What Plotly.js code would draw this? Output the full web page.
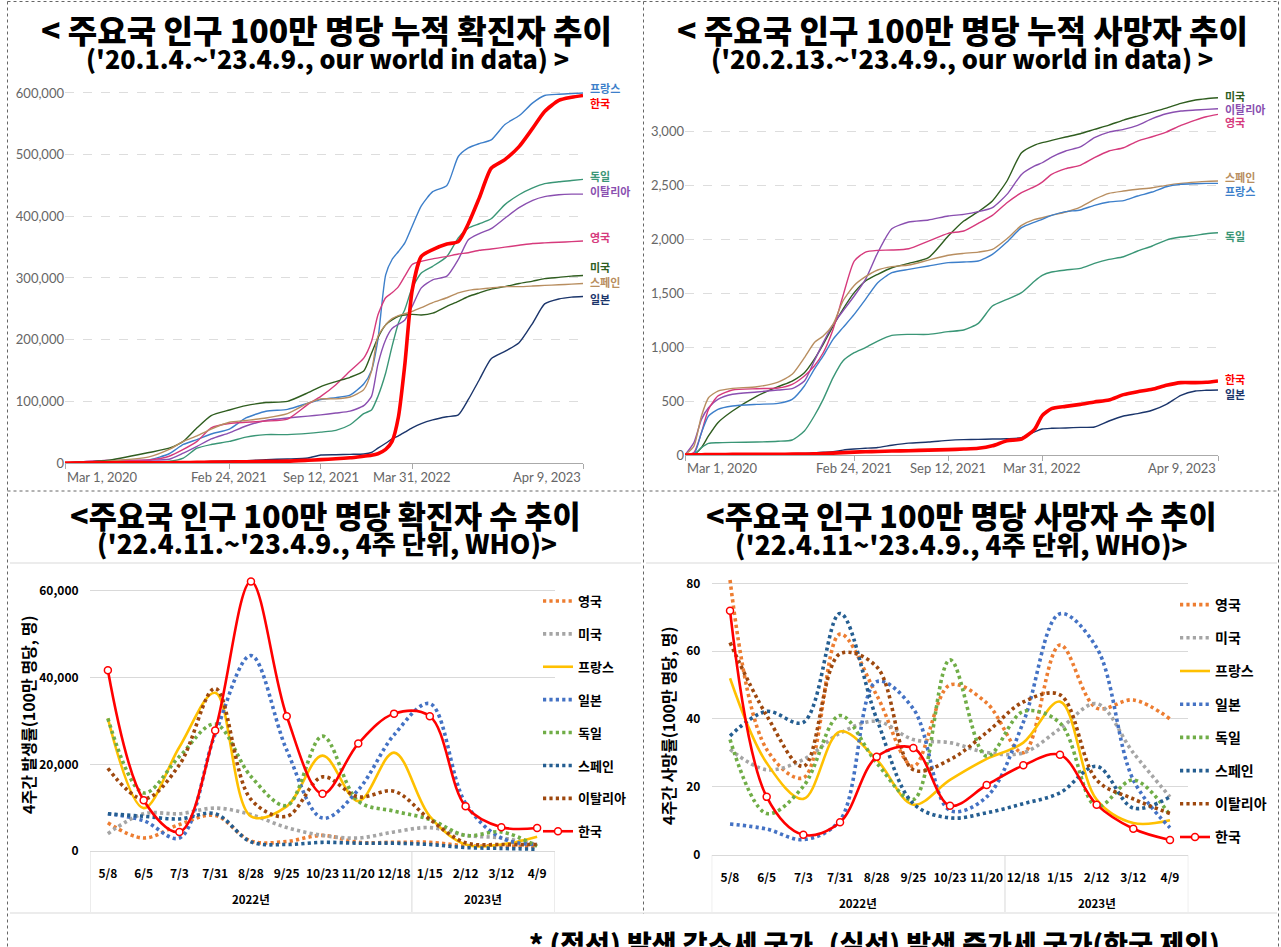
<!DOCTYPE html>
<html><head><meta charset="utf-8">
<script src="https://cdn.plot.ly/plotly-3.0.1.min.js"></script>
<style>html,body{margin:0;padding:0;background:#fff;}#chart{width:1281px;height:947px;}</style>
</head><body><div id="chart"></div>
<script>
const W = 1281, H = 947;
const px = x => x / W, py = y => 1 - y / H;

// ---------- Top-left: cumulative cases per million (thousands) ----------
const casesDates = ["2020-03-01","2020-06-01","2020-09-01","2020-10-15","2020-11-15","2020-12-15","2021-01-15","2021-02-24","2021-04-01","2021-05-15","2021-07-01","2021-08-15","2021-09-12","2021-10-15","2021-11-15","2021-12-15","2022-01-01","2022-01-15","2022-02-01","2022-02-15","2022-03-01","2022-03-15","2022-03-31","2022-04-20","2022-05-15","2022-06-15","2022-07-10","2022-08-01","2022-08-25","2022-09-20","2022-10-20","2022-11-20","2022-12-20","2023-01-15","2023-02-15","2023-03-15","2023-04-09"];
const casesFrance  = [0,2,5,15,30,38,47,55,73,84,87,97,103,106,110,128,150,200,305,330,343,357,384,417,440,450,497,511,518,524,549,563,584,596,598,599,600];
const casesKorea   = [0.1,0.3,0.4,0.5,0.6,1,1.4,1.7,2,2.6,3,4.5,5.5,6.8,8.5,11,12.5,15,22,35,75,160,280,335,346,355,359,388,430,478,492,513,543,570,588,593,596];
const casesGermany = [0,1,2,3,8,24,30,35,42,46,46,48,50,53,62,80,86,108,146,189,227,249,284,308,319,335,365,381,388,396,419,435,446,453,456,458,460];
const casesItaly   = [0,4,4.5,6,16,27,39,49,60,69,73,76,78,81,84,93,108,160,200,218,225,232,254,284,297,303,330,362,372,380,397,414,426,432,435,436,436];
const casesUK      = [0,4,5,11,22,35,57,64,66,68,71,95,108,127,149,170,197,240,268,276,286,303,322,327,331,335,339,341,345,347,350,353,356,357,358,359,360];
const casesUS      = [0,4,17,24,35,57,77,86,93,98,100,114,124,132,139,149,178,203,224,232,238,240,241,240,243,254,262,270,276,282,286,291,295,299,301,303,304];
const casesSpain   = [0,3,10,22,35,44,55,66,69,73,80,97,104,104,107,119,149,205,224,234,239,242,246,252,260,268,276,280,282,284,286,286,287,288,289,290,291];
const casesJapan   = [0,0.1,0.6,0.7,0.9,1.5,2.5,3.4,3.8,5.5,6.5,8,13,13.5,14,14.6,17,24,32,39,44,50,57,64,70,75,78,103,135,169,181,195,227,258,266,269,270];
const casesLabelY  = [608,584,465,441,366,318,293,266]; // label positions (thousands), in order of topNamesCases

// ---------- Top-right: cumulative deaths per million ----------
const deathsDates = ["2020-03-01","2020-03-20","2020-04-05","2020-04-20","2020-05-10","2020-06-10","2020-08-01","2020-09-15","2020-10-15","2020-11-10","2020-12-01","2020-12-20","2021-01-10","2021-01-31","2021-02-24","2021-03-20","2021-04-15","2021-05-15","2021-06-20","2021-08-01","2021-09-12","2021-10-15","2021-11-15","2021-12-15","2022-01-15","2022-02-15","2022-03-15","2022-03-31","2022-04-20","2022-05-20","2022-06-20","2022-07-20","2022-08-20","2022-09-20","2022-10-20","2022-11-20","2022-12-20","2023-01-20","2023-02-20","2023-03-15","2023-04-09"];
const deathsUS      = [0,6,68,176,299,407,546,633,685,762,886,1025,1194,1349,1503,1611,1673,1734,1774,1827,2027,2166,2253,2352,2537,2799,2870,2892,2913,2944,2975,3015,3055,3101,3138,3175,3212,3256,3287,3299,3308];
const deathsItaly   = [0,114,330,438,515,562,583,602,614,685,870,1040,1210,1333,1472,1626,1873,2095,2157,2176,2213,2228,2253,2290,2413,2598,2676,2706,2759,2815,2852,2938,2990,3015,3052,3114,3160,3185,3194,3200,3206];
const deathsUK      = [0,22,207,423,546,602,614,620,654,731,824,947,1163,1472,1796,1879,1895,1898,1910,1981,2052,2074,2145,2219,2336,2429,2484,2527,2598,2651,2682,2753,2815,2845,2907,2947,2990,3052,3101,3132,3154];
const deathsSpain   = [0,83,361,530,592,617,632,675,747,901,1040,1102,1210,1426,1570,1651,1713,1744,1759,1805,1850,1867,1879,1904,2003,2126,2182,2197,2219,2250,2296,2367,2423,2444,2460,2475,2497,2515,2527,2534,2537];
const deathsFrance  = [0,6,207,361,423,454,469,478,515,639,793,917,1071,1179,1302,1441,1595,1688,1719,1750,1781,1787,1796,1858,1972,2105,2157,2182,2219,2253,2269,2312,2343,2355,2398,2435,2484,2506,2512,2515,2515];
const deathsGermany = [0,6,68,108,114,117,120,127,139,222,361,515,716,870,947,994,1055,1108,1117,1117,1142,1157,1219,1379,1441,1503,1611,1663,1694,1713,1728,1774,1811,1836,1889,1935,1990,2018,2034,2049,2058];
const deathsKorea   = [0,2,3,4,5,5.5,6,7,8,9,10,13,17,22,27,30,33,37,40,45,50,55,62,85,132,148,240,365,429,450,469,491,509,559,586,608,645,670,670,673,685];
const deathsJapan   = [0,0.3,1,2,5,7,8,12,13,15,20,25,30,45,55,62,70,90,110,120,135,142,145,148,151,160,215,241,247,250,256,259,315,361,383,414,469,552,593,599,602];
const deathsLabelY  = [3324,3204,3083,2574,2444,2028,704,565];

// ---------- Bottom: 4-week rates (WHO) ----------
const weeks = ["5/8","6/5","7/3","7/31","8/28","9/25","10/23","11/20","12/18","1/15","2/12","3/12","4/9"];
const yearGroupsCases  = ["2022년",9,"2023년",4];
const yearGroupsDeaths = ["2022년",8,"2023년",5];

const wkCasesUK      = [6500,3000,6100,8200,2300,2200,3600,2000,2000,2000,1200,1200,1000];
const wkCasesUS      = [4000,8600,8600,9900,8400,5400,3600,3000,4400,5400,3600,3000,1500];
const wkCasesFrance  = [30600,9900,24000,36500,8000,10300,22000,11500,22700,8000,1500,1500,3300];
const wkCasesJapan   = [8600,7000,3000,27000,45100,23300,7600,14100,26800,34000,11000,3000,1500];
const wkCasesGermany = [30600,13400,21800,29300,17200,10500,26500,11500,9200,7300,3600,4400,1100];
const wkCasesSpain   = [8600,8000,7400,8600,2100,1500,2000,1800,1800,1500,800,600,400];
const wkCasesItaly   = [19100,12000,19900,37500,11900,8000,17100,12500,13800,7300,1900,1500,1500];
const wkCasesKorea   = [41700,11700,4400,27800,62200,31100,13200,24800,31700,31100,10300,5500,5300];

const wkDeathsUK      = [81,31,22.6,65,47,26,50,44.7,30,61.8,43.2,45.6,40];
const wkDeathsUS      = [31,25,28,35.8,39.3,33.9,33,30.1,30,37.1,44.5,30,17];
const wkDeathsFrance  = [52,27,16.4,36.3,28,14.7,22,28.2,33,45.1,16.2,9.3,10.1];
const wkDeathsJapan   = [9,7.5,4.4,10.1,51,43,13,17,39,71,61,22,7.9];
const wkDeathsGermany = [33.9,12.1,20.1,41,27,16.2,57.4,29,42.2,38.8,14.2,22,11.6];
const wkDeathsSpain   = [35,42.2,39,71.1,40,15,10.8,12.3,15,18.2,26,13.7,17];
const wkDeathsItaly   = [62.5,41,26,59.2,55.4,25,28,36,45,47.1,22,16.4,12.1];
const wkDeathsKorea   = [71.9,17,5.8,9.5,28.8,31.4,14.4,20.5,26.3,29.4,14.7,7.6,4.3];

const KR = "Noto Sans CJK KR";
const traces = [];
const annotations = [];
const shapes = [];

// top charts
const topNamesCases = ["프랑스","한국","독일","이탈리아","영국","미국","스페인","일본"];
const topCasesSeries = [casesFrance,casesKorea,casesGermany,casesItaly,casesUK,casesUS,casesSpain,casesJapan];
const topCasesColors = ["#3d7fca","#ff0000","#3a9676","#8a4fb0","#d63a7c","#2f5d1f","#b88e60","#1b356b"];
const topNamesDeaths = ["미국","이탈리아","영국","스페인","프랑스","독일","한국","일본"];
const topDeathsSeries = [deathsUS,deathsItaly,deathsUK,deathsSpain,deathsFrance,deathsGermany,deathsKorea,deathsJapan];
const topDeathsColors = ["#2f5d1f","#8a4fb0","#d63a7c","#b88e60","#3d7fca","#3a9676","#ff0000","#1b356b"];

function addTop(names, series, colors, dates, scale, xa, ya, labelY) {
  const order = names.map((n,i)=>i).sort((a,b)=> (names[a]==="한국") - (names[b]==="한국"));
  order.forEach(i => {
    const isKr = names[i] === "한국";
    traces.push({x: dates, y: series[i].map(v=>v*scale), xaxis: xa, yaxis: ya, mode: "lines",
      line: {color: colors[i], width: isKr ? 3.6 : 1.4, shape: "spline", smoothing: 0.6},
      showlegend: false, hoverinfo: "skip"});
  });
  names.forEach((n,i) => {
    annotations.push({x: dates[dates.length-1], y: labelY[i]*scale, xref: xa, yref: ya, xanchor: "left", yanchor: "middle", xshift: 5,
      showarrow: false, text: n, font: {family: KR, size: 11, color: colors[i], weight: 700}});
  });
}
addTop(topNamesCases, topCasesSeries, topCasesColors, casesDates, 1000, "x", "y", casesLabelY);
addTop(topNamesDeaths, topDeathsSeries, topDeathsColors, deathsDates, 1, "x2", "y2", deathsLabelY);

// date tick labels (top charts)
const dateTicks = ["2020-03-01","2021-02-24","2021-09-12","2022-03-31","2023-04-09"];
const dateTickText = ["Mar 1, 2020","Feb 24, 2021","Sep 12, 2021","Mar 31, 2022","Apr 9, 2023"];
const anchors = ["left","center","center","center","right"];
[["x",477],["x2",468]].forEach(([xa,yy]) => {
  dateTicks.forEach((d,i) => annotations.push({x: d, y: py(yy), xref: xa, yref: "paper", xanchor: anchors[i], yanchor: "middle",
    showarrow: false, text: dateTickText[i], font: {family: "Lato", size: 13, color: "#666"}}));
});

// bottom charts
const botNames = ["영국","미국","프랑스","일본","독일","스페인","이탈리아","한국"];
const botColors = ["#ED7D31","#A5A5A5","#FFC000","#4472C4","#70AD47","#255E91","#9E480E","#FF0000"];
const botCases = [wkCasesUK,wkCasesUS,wkCasesFrance,wkCasesJapan,wkCasesGermany,wkCasesSpain,wkCasesItaly,wkCasesKorea];
const botDeaths = [wkDeathsUK,wkDeathsUS,wkDeathsFrance,wkDeathsJapan,wkDeathsGermany,wkDeathsSpain,wkDeathsItaly,wkDeathsKorea];
const solid = {"프랑스": true, "한국": true};
function addBottom(series, xa, ya, leg, tag) {
  botNames.forEach((n,i) => {
    const t = {x: weeks, y: series[i], xaxis: xa, yaxis: ya, name: n, legend: leg, legendgroup: tag+i,
      mode: n==="한국" ? "lines+markers" : "lines", hoverinfo: "skip", cliponaxis: false,
      line: {color: botColors[i], width: solid[n] ? 2.6 : 3.6, shape: "spline", smoothing: 1, dash: solid[n] ? "solid" : "3.2px,3.2px"}};
    if (n === "한국") t.marker = {symbol: "circle", size: 7, color: "#fff", line: {color: "#FF0000", width: 1.5}};
    traces.push(t);
  });
}
addBottom(botCases, "x3", "y3", "legend", "c");
addBottom(botDeaths, "x4", "y4", "legend2", "d");

function groupShapes(groups, xa, yTop, yBot, yLabel) {
  let start = -0.5;
  const bounds = [start];
  for (let g = 0; g < groups.length; g += 2) {
    const n = groups[g+1];
    annotations.push({x: start + n/2, y: py(yLabel), xref: xa, yref: "paper", xanchor: "center", yanchor: "middle", showarrow: false, text: groups[g],
      font: {family: KR, size: 11.5, color: "#000", weight: 700}});
    start += n; bounds.push(start);
  }
  bounds.forEach(b => shapes.push({type: "line", xref: xa, yref: "paper", x0: b, x1: b, y0: py(yTop), y1: py(yBot), line: {color: "#d9d9d9", width: 1}}));
}
groupShapes(yearGroupsCases, "x3", 851, 912, 899);
groupShapes(yearGroupsDeaths, "x4", 855, 912, 903);

// titles
const T = (text, size, x, y) => annotations.push({x: px(x), y: py(y), xref: "paper", yref: "paper", xanchor: "center", yanchor: "middle",
  showarrow: false, text, font: {family: KR, size, color: "#000", weight: 900}});
T("&lt; 주요국 인구 100만 명당 누적 확진자 추이", 32, 326, 29);
T("('20.1.4.~'23.4.9., our world in data) &gt;", 25.2, 327, 58);
T("&lt; 주요국 인구 100만 명당 누적 사망자 추이", 32, 963, 29);
T("('20.2.13.~'23.4.9., our world in data) &gt;", 25.4, 962, 58);
T("&lt;주요국 인구 100만 명당 확진자 수 추이", 30.6, 325, 515);
T("('22.4.11.~'23.4.9., 4주 단위, WHO)&gt;", 26.2, 327, 543);
T("&lt;주요국 인구 100만 명당 사망자 수 추이", 30.6, 961.5, 515);
T("('22.4.11~'23.4.9., 4주 단위, WHO)&gt;", 26.3, 962, 543);
annotations.push({x: px(527), y: py(943), xref: "paper", yref: "paper", xanchor: "left", yanchor: "middle", showarrow: false,
  text: "* (점선) 발생 감소세 국가, (실선) 발생 증가세 국가(한국 제외)", font: {family: KR, size: 27, color: "#000", weight: 900}});

// y axis titles (bottom)
annotations.push({x: px(28), y: py(715), xref: "paper", yref: "paper", xanchor: "center", yanchor: "middle", showarrow: false, textangle: -90,
  text: "4주간 발생률(100만 명당, 명)", font: {family: KR, size: 16, color: "#000", weight: 700}});
annotations.push({x: px(668), y: py(726), xref: "paper", yref: "paper", xanchor: "center", yanchor: "middle", showarrow: false, textangle: -90,
  text: "4주간 사망률(100만 명당, 명)", font: {family: KR, size: 16, color: "#000", weight: 700}});

// frame lines
const P = (x0,y0,x1,y1,color,dash) => shapes.push({type: "line", xref: "paper", yref: "paper", x0: px(x0), x1: px(x1), y0: py(y0), y1: py(y1),
  line: {color, width: 1, dash}});
P(7.5,1.5,1278.5,1.5,"#666","dot");
P(7.5,1.5,7.5,947,"#666","dot");
P(1278.5,1.5,1278.5,947,"#666","dot");
P(643.5,1.5,643.5,914,"#666","dot");
P(7.5,491,1278.5,491,"#666","dot");
P(10,563,641,563,"#d9d9d9","solid");
P(646,563,1277,563,"#d9d9d9","solid");
P(10,913,1277,913,"#d9d9d9","solid");

const gridTop = {showgrid: true, gridcolor: "#dddddd", griddash: "dash", zeroline: false, showline: false, ticks: "",
  tickfont: {family: "Lato", size: 13, color: "#666"}, fixedrange: true};
const xTop = {type: "date", showgrid: false, zeroline: false, showline: true, linecolor: "#aaa", ticks: "outside", ticklen: 5,
  tickcolor: "#aaa", tickvals: dateTicks, showticklabels: false, range: ["2020-03-01","2023-04-09"]};
const botY = {showgrid: true, gridcolor: "#d9d9d9", zeroline: false, showline: false, ticks: "outside", ticklen: 8, tickcolor: "rgba(0,0,0,0)",
  tickfont: {family: KR, size: 12, color: "#000", weight: 700}};
const botX = {type: "category", range: [-0.5, 12.5], showgrid: false, zeroline: false, showline: true, linecolor: "#d9d9d9", ticks: "",
  tickangle: 0, tickfont: {family: KR, size: 12, color: "#000", weight: 700}, ticklabelstandoff: 12};

const layout = {
  width: W, height: H, margin: {l: 0, r: 0, t: 0, b: 0}, paper_bgcolor: "#fff", plot_bgcolor: "rgba(0,0,0,0)",
  xaxis:  Object.assign({}, xTop, {domain: [px(65), px(583)], anchor: "y"}),
  yaxis:  Object.assign({}, gridTop, {domain: [py(463), py(463 - 620000*370/600000)], range: [0, 620000], anchor: "x",
          tickvals: [0,100000,200000,300000,400000,500000,600000], ticktext: ["0","100,000","200,000","300,000","400,000","500,000","600,000"]}),
  xaxis2: Object.assign({}, xTop, {domain: [px(685), px(1218)], anchor: "y2"}),
  yaxis2: Object.assign({}, gridTop, {domain: [py(455), py(455 - 3400*0.108)], range: [0, 3400], anchor: "x2",
          tickvals: [0,500,1000,1500,2000,2500,3000], ticktext: ["0","500","1,000","1,500","2,000","2,500","3,000"]}),
  xaxis3: Object.assign({}, botX, {domain: [px(90), px(555)], anchor: "y3"}),
  yaxis3: Object.assign({}, botY, {domain: [py(851), py(851 - 66000*86.67/20000)], range: [0, 66000], anchor: "x3",
          tickvals: [0,20000,40000,60000], ticktext: ["0","20,000","40,000","60,000"]}),
  xaxis4: Object.assign({}, botX, {domain: [px(711.7), px(1188.3)], anchor: "y4"}),
  yaxis4: Object.assign({}, botY, {domain: [py(854.5), py(854.5 - 86*3.39)], range: [0, 86], anchor: "x4",
          tickvals: [0,20,40,60,80], ticktext: ["0","20","40","60","80"]}),
  legend:  {x: px(538), y: py(586), xanchor: "left", yanchor: "top", bgcolor: "rgba(0,0,0,0)", tracegroupgap: 13, itemwidth: 30,
            font: {family: KR, size: 13, color: "#000", weight: 700}, traceorder: "grouped"},
  legend2: {x: px(1175), y: py(589), xanchor: "left", yanchor: "top", bgcolor: "rgba(0,0,0,0)", tracegroupgap: 12, itemwidth: 30,
            font: {family: KR, size: 14, color: "#000", weight: 700}, traceorder: "grouped"},
  annotations, shapes, hovermode: false
};
Plotly.newPlot("chart", traces, layout, {displayModeBar: false, staticPlot: true});
</script></body></html>
